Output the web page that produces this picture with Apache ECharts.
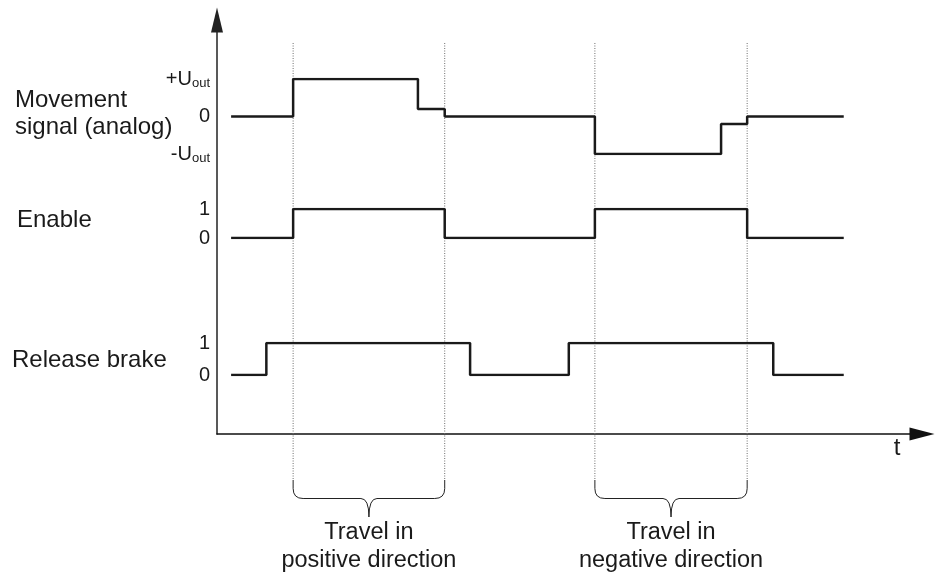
<!DOCTYPE html>
<html>
<head>
<meta charset="utf-8">
<script src="https://cdn.jsdelivr.net/npm/echarts@6/dist/echarts.min.js"></script>
<style>
  html, body { margin: 0; padding: 0; background: #fff; }
  #box { width: 938px; height: 575px; }
</style>
</head>
<body>
<div id="box"></div>
<script>
// time axis runs 0..100, signal changes
var moveT = [2, 10.8, 28.5, 32.3, 53.6, 71.5, 75.2, 88.9];
var moveV = [0, 1, 0.2, 0, -1, -0.2, 0, 0];
var enableT = [2, 10.8, 32.3, 53.6, 75.2, 88.9];
var enableV = [0, 1, 0, 1, 0, 0];
var brakeT = [2, 7, 35.9, 49.9, 78.9, 88.9];
var brakeV = [0, 1, 0, 1, 0, 0];
var markT = [10.8, 32.3, 53.6, 75.2];
var travelSpans = [[10.8, 32.3], [53.6, 75.2]];
var travelNames = ['Travel in\npositive direction', 'Travel in\nnegative direction'];
var moveTicks = { '1': '+U{s|out}', '0': '0', '-1': '-U{s|out}' };
var signalNames = ['Movement\nsignal (analog)', 'Enable', 'Release brake'];

var FONT = 'Liberation Sans';
var INK = '#1a1a1a';

function pairs(t, v) {
  var out = [];
  for (var i = 0; i < t.length; i++) out.push([t[i], v[i]]);
  return out;
}

function grid(top, height) {
  return { left: 217, right: 16, top: top, height: height, outerBoundsMode: 'none', containLabel: false };
}
function hiddenX(idx) {
  return { type: 'value', gridIndex: idx, min: 0, max: 100, show: false };
}
function levelY(idx, min, max, fmt) {
  return {
    type: 'value', gridIndex: idx, min: min, max: max, interval: 1,
    axisLine: { show: false }, axisTick: { show: false }, splitLine: { show: false },
    axisLabel: {
      margin: 7, fontSize: 20, fontFamily: FONT, color: INK,
      formatter: fmt,
      rich: { s: { fontSize: 13, fontFamily: FONT, color: INK, padding: [9, 0, 0, 0] } }
    }
  };
}
function signal(idx, t, v) {
  return {
    type: 'line', xAxisIndex: idx, yAxisIndex: idx, step: 'end', symbol: 'none',
    silent: true, z: 5, lineStyle: { color: INK, width: 2.5 }, data: pairs(t, v)
  };
}

var box = echarts.init(document.getElementById('box'));
box.setOption({
  animation: false,
  backgroundColor: '#fff',
  grid: [
    grid(20, 414),   // main axes (arrow heads stick out past the ends)
    grid(79, 75),    // movement signal
    grid(209, 29),   // enable
    grid(343, 32),   // release brake
    grid(43, 437),   // dotted guides
    grid(480, 37)    // braces
  ],
  xAxis: [
    {
      type: 'value', gridIndex: 0, min: 0, max: 100,
      axisLine: { show: true, symbol: ['none', 'triangle'], symbolSize: [13, 25], lineStyle: { color: '#111', width: 1.5 } },
      axisTick: { show: false }, axisLabel: { show: false }, splitLine: { show: false }
    },
    hiddenX(1), hiddenX(2), hiddenX(3), hiddenX(4), hiddenX(5)
  ],
  yAxis: [
    {
      type: 'value', gridIndex: 0, min: 0, max: 1,
      axisLine: { show: true, symbol: ['none', 'triangle'], symbolSize: [12, 25], lineStyle: { color: '#222', width: 1.5 } },
      axisTick: { show: false }, axisLabel: { show: false }, splitLine: { show: false }
    },
    levelY(1, -1, 1, function (v) { return moveTicks[String(v)]; }),
    levelY(2, 0, 1, function (v) { return String(v); }),
    levelY(3, 0, 1, function (v) { return String(v); }),
    { type: 'value', gridIndex: 4, min: 0, max: 1, show: false },
    { type: 'value', gridIndex: 5, min: 0, max: 1, show: false }
  ],
  graphic: [
    { type: 'text', x: 15, y: 114, style: { text: signalNames[0], fontSize: 24, fontFamily: FONT, fill: INK, lineHeight: 27, verticalAlign: 'middle', textVerticalAlign: 'middle' } },
    { type: 'text', x: 17, y: 220, style: { text: signalNames[1], fontSize: 24, fontFamily: FONT, fill: INK, verticalAlign: 'middle', textVerticalAlign: 'middle' } },
    { type: 'text', x: 12, y: 360, style: { text: signalNames[2], fontSize: 24, fontFamily: FONT, fill: INK, verticalAlign: 'middle', textVerticalAlign: 'middle' } },
    { type: 'text', x: 897, y: 448, style: { text: 't', fontSize: 24, fontFamily: FONT, fill: INK, align: 'center', textAlign: 'center', verticalAlign: 'middle', textVerticalAlign: 'middle' } }
  ],
  series: [
    signal(1, moveT, moveV),
    signal(2, enableT, enableV),
    signal(3, brakeT, brakeV),
    {
      type: 'custom', xAxisIndex: 4, yAxisIndex: 4, silent: true, z: 1,
      data: markT.map(function (t) { return [t]; }),
      renderItem: function (params, api) {
        var a = api.coord([api.value(0), 1]);
        var b = api.coord([api.value(0), 0]);
        return {
          type: 'line',
          shape: { x1: a[0], y1: a[1], x2: b[0], y2: b[1] },
          style: { stroke: '#6e6e6e', lineWidth: 1, lineDash: [1, 1.5] }
        };
      }
    },
    {
      type: 'custom', xAxisIndex: 5, yAxisIndex: 5, silent: true, z: 2,
      data: travelSpans,
      renderItem: function (params, api) {
        var x1 = api.value(0), x2 = api.value(1);
        var p1 = api.coord([x1, 1]);
        var p2 = api.coord([x2, 1]);
        var tip = api.coord([(x1 + x2) / 2, 0]);
        var xa = p1[0], xb = p2[0], top = p1[1], bot = tip[1], xc = tip[0];
        var mid = (top + bot) / 2, r = 10, m = 8;
        var d = 'M' + xa + ' ' + top +
          ' L' + xa + ' ' + (mid - r) +
          ' Q' + xa + ' ' + mid + ' ' + (xa + r) + ' ' + mid +
          ' L' + (xc - m) + ' ' + mid +
          ' Q' + xc + ' ' + mid + ' ' + xc + ' ' + bot +
          ' Q' + xc + ' ' + mid + ' ' + (xc + m) + ' ' + mid +
          ' L' + (xb - r) + ' ' + mid +
          ' Q' + xb + ' ' + mid + ' ' + xb + ' ' + (mid - r) +
          ' L' + xb + ' ' + top;
        return {
          type: 'group',
          children: [
            { type: 'path', shape: { pathData: d }, style: { fill: 'none', stroke: '#222', lineWidth: 1 } },
            {
              type: 'text',
              style: {
                text: travelNames[params.dataIndex], x: xc, y: bot + 2,
                fontSize: 23.5, fontFamily: FONT, fill: INK, lineHeight: 28,
                align: 'center', textAlign: 'center', verticalAlign: 'top', textVerticalAlign: 'top'
              }
            }
          ]
        };
      }
    }
  ]
});
</script>
</body>
</html>
